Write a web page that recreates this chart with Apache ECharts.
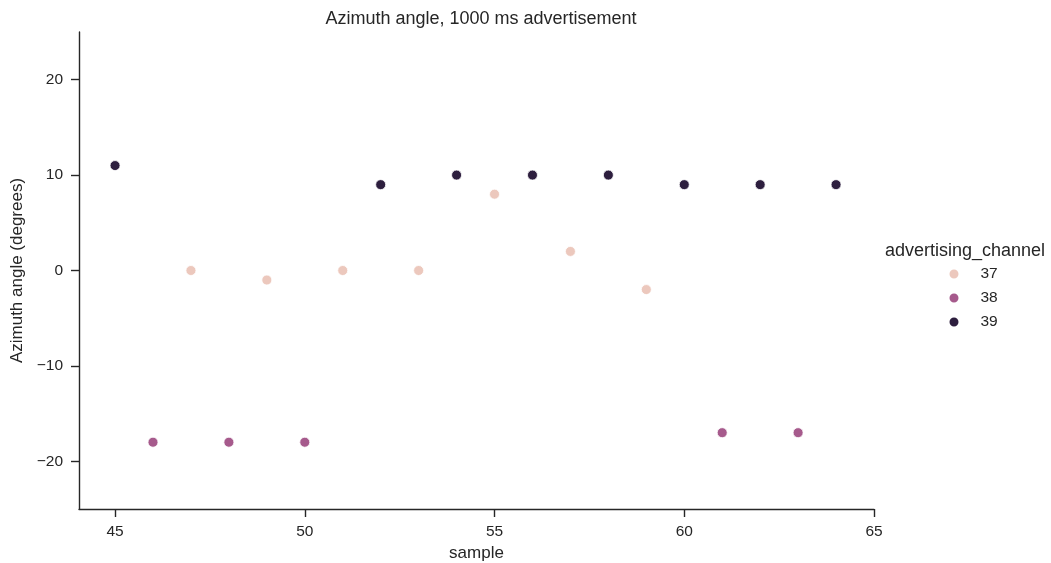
<!DOCTYPE html>
<html>
<head>
<meta charset="utf-8">
<script src="https://cdn.jsdelivr.net/npm/echarts@6/dist/echarts.min.js"></script>
<style>
  html, body { margin: 0; padding: 0; background: #fff; }
  #chart { width: 1051px; height: 563px; }
</style>
</head>
<body>
<div id="chart"></div>
<script>
// Azimuth readings per advertising channel: [sample, degrees]
const channels = ['37', '38', '39'];
const ch37 = [[47, 0], [49, -1], [51, 0], [53, 0], [55, 8], [57, 2], [59, -2]];
const ch38 = [[46, -18], [48, -18], [50, -18], [61, -17], [63, -17]];
const ch39 = [[45, 11], [52, 9], [54, 10], [56, 10], [58, 10], [60, 9], [62, 9], [64, 9]];
const seriesData = [ch37, ch38, ch39];
const xTicks = [45, 50, 55, 60, 65];
const yTicks = [-20, -10, 0, 10, 20];
const colors = ['#ecc8bd', '#a65a8c', '#2d1e3e'];

const font = 'Liberation Sans, Arial, Helvetica, sans-serif';
const ink = '#262626';

const chart = echarts.init(document.getElementById('chart'), null, { renderer: 'canvas' });

chart.setOption({
  animation: false,
  backgroundColor: '#ffffff',
  textStyle: { fontFamily: font },
  title: {
    text: 'Azimuth angle, 1000 ms advertisement',
    left: 476, top: 5, textAlign: 'center',
    textStyle: { fontFamily: font, fontSize: 18, fontWeight: 'normal', color: ink }
  },
  grid: { left: 79, right: 177, top: 32, bottom: 54, outerBoundsMode: 'none', containLabel: false },
  xAxis: {
    type: 'value', min: 44.05, max: 65,
    name: 'sample', nameLocation: 'middle', nameGap: 35,
    nameTextStyle: { fontFamily: font, fontSize: 17, color: ink },
    splitLine: { show: false },
    axisLine: { onZero: false, lineStyle: { color: ink, width: 1.4 } },
    axisTick: { length: 8, lineStyle: { color: ink, width: 1.4 }, customValues: xTicks },
    axisLabel: { fontFamily: font, fontSize: 15.5, color: ink, margin: 15, customValues: xTicks }
  },
  yAxis: {
    type: 'value', min: -25, max: 25,
    name: 'Azimuth angle (degrees)', nameLocation: 'middle', nameGap: 51,
    nameTextStyle: { fontFamily: font, fontSize: 17, color: ink },
    splitLine: { show: false },
    axisLine: { show: true, onZero: false, lineStyle: { color: ink, width: 1.4 } },
    axisTick: { show: true, length: 8, lineStyle: { color: ink, width: 1.4 }, customValues: yTicks },
    axisLabel: {
      fontFamily: font, fontSize: 15.5, color: ink, margin: 16,
      customValues: yTicks,
      formatter: v => (v < 0 ? '\u2212' + Math.abs(v) : String(v))
    }
  },
  legend: {
    orient: 'vertical', left: 947.5, top: 266, padding: 0,
    itemWidth: 11, itemHeight: 11, itemGap: 8,
    icon: 'circle',
    data: channels,
    textStyle: { fontFamily: font, fontSize: 15.5, color: ink, padding: [0, 0, 0, 16] }
  },
  graphic: [{
    type: 'text', left: 885, top: 242,
    style: { text: 'advertising_channel', font: '18px ' + font, fill: ink }
  }],
  series: channels.map((name, i) => ({
    name,
    type: 'scatter',
    data: seriesData[i],
    symbol: 'circle',
    symbolSize: 10,
    itemStyle: { color: colors[i], borderColor: '#ffffff', borderWidth: 0.8, opacity: 1 }
  }))
});
</script>
</body>
</html>
